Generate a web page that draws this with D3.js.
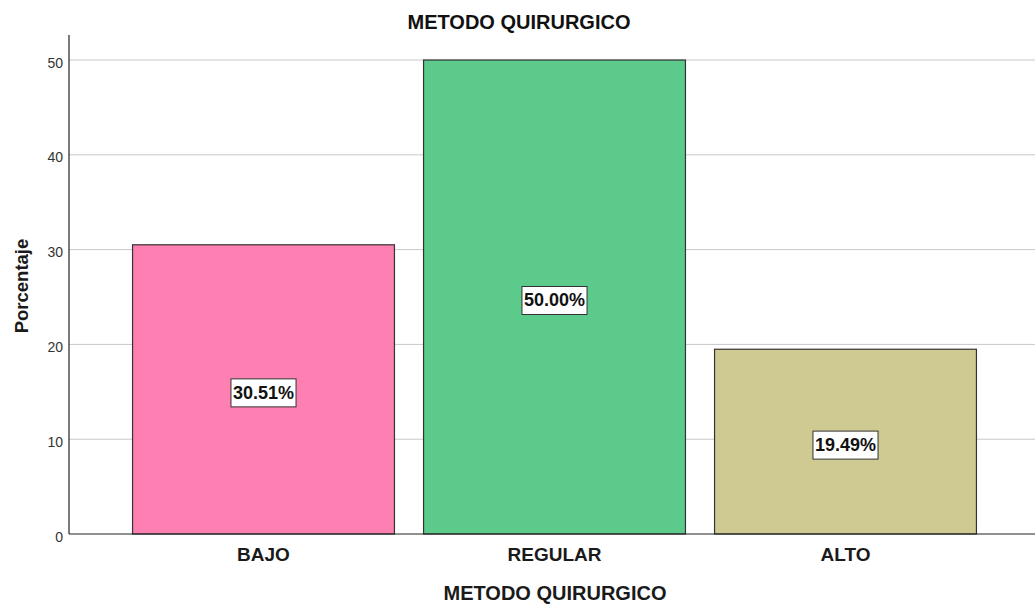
<!DOCTYPE html>
<html><head><meta charset="utf-8">
<script src="https://cdn.jsdelivr.net/npm/d3@7"></script>
<style>body{margin:0;background:#fff;}svg{display:block;font-family:"Liberation Sans",Arial,sans-serif;}</style>
</head><body><svg id="c" width="1035" height="606"></svg>
<script>
const categories = ["BAJO", "REGULAR", "ALTO"];
const values = [30.51, 50.00, 19.49];
const colors = ["#fe7fb1", "#5cca8b", "#cfca91"];
const yTicks = [0, 10, 20, 30, 40, 50];

const svg = d3.select("#c");
const FF = "Liberation Sans, Arial, sans-serif";
const x = d3.scaleBand().domain(categories).range([118, 991]).paddingInner(0.1).paddingOuter(0.05);
const y = d3.scaleLinear().domain([0, 52.64]).range([534, 35]);

// gridlines
svg.append("g").selectAll("line").data(yTicks.filter(d => d > 0)).join("line")
  .attr("x1", 69).attr("x2", 1035).attr("y1", d => y(d)).attr("y2", d => y(d))
  .attr("stroke", "#c8c8c8").attr("stroke-width", 1);

// bars
svg.append("g").selectAll("rect").data(values).join("rect")
  .attr("x", (d, i) => x(categories[i])).attr("width", x.bandwidth())
  .attr("y", d => y(d)).attr("height", d => y(0) - y(d))
  .attr("fill", (d, i) => colors[i]).attr("stroke", "#333").attr("stroke-width", 1.2);

// y axis
const yAxis = d3.axisLeft(y).tickValues(yTicks).tickSize(0).tickPadding(6);
const ga = svg.append("g").attr("transform", "translate(69,0)").call(yAxis);
ga.select(".domain").remove();
ga.selectAll("text").attr("font-size", 14).attr("fill", "#333").attr("font-family", FF).attr("dy", "0.5em");
svg.append("line").attr("x1", 69).attr("x2", 69).attr("y1", 35).attr("y2", 534).attr("stroke", "#222").attr("stroke-width", 1.2);

// x axis
const xAxis = d3.axisBottom(x).tickSize(0).tickPadding(14);
const gx = svg.append("g").attr("transform", "translate(0,534)").call(xAxis);
gx.select(".domain").remove();
gx.selectAll("text").attr("font-size", 19).attr("font-weight", "bold").attr("fill", "#1a1a1a").attr("font-family", FF);
svg.append("line").attr("x1", 69).attr("x2", 1035).attr("y1", 534).attr("y2", 534).attr("stroke", "#222").attr("stroke-width", 1.2);

// value labels
const lab = svg.append("g").selectAll("g").data(values).join("g")
  .attr("transform", (d, i) => `translate(${x(categories[i]) + x.bandwidth() / 2},${y(d / 2) + 3})`);
lab.append("text").attr("text-anchor", "middle").attr("dy", "0.36em")
  .attr("font-size", 18).attr("font-weight", "bold").attr("fill", "#111")
  .text(d => d.toFixed(2) + "%");
lab.each(function () {
  const g = d3.select(this);
  const bb = g.select("text").node().getBBox();
  g.insert("rect", "text").attr("x", bb.x - 2).attr("y", bb.y - 4)
    .attr("width", bb.width + 4).attr("height", bb.height + 8)
    .attr("fill", "#fff").attr("stroke", "#333").attr("stroke-width", 1);
});

// titles
svg.append("text").attr("x", 519).attr("y", 29).attr("text-anchor", "middle")
  .attr("font-size", 20).attr("font-weight", "bold").attr("fill", "#111").text("METODO QUIRURGICO");
svg.append("text").attr("x", 555).attr("y", 600).attr("text-anchor", "middle")
  .attr("font-size", 20).attr("font-weight", "bold").attr("fill", "#1a1a1a").text("METODO QUIRURGICO");
svg.append("text").attr("transform", "translate(28,286) rotate(-90)").attr("text-anchor", "middle")
  .attr("font-size", 18.5).attr("font-weight", "bold").attr("fill", "#1a1a1a").text("Porcentaje");
</script></body></html>
